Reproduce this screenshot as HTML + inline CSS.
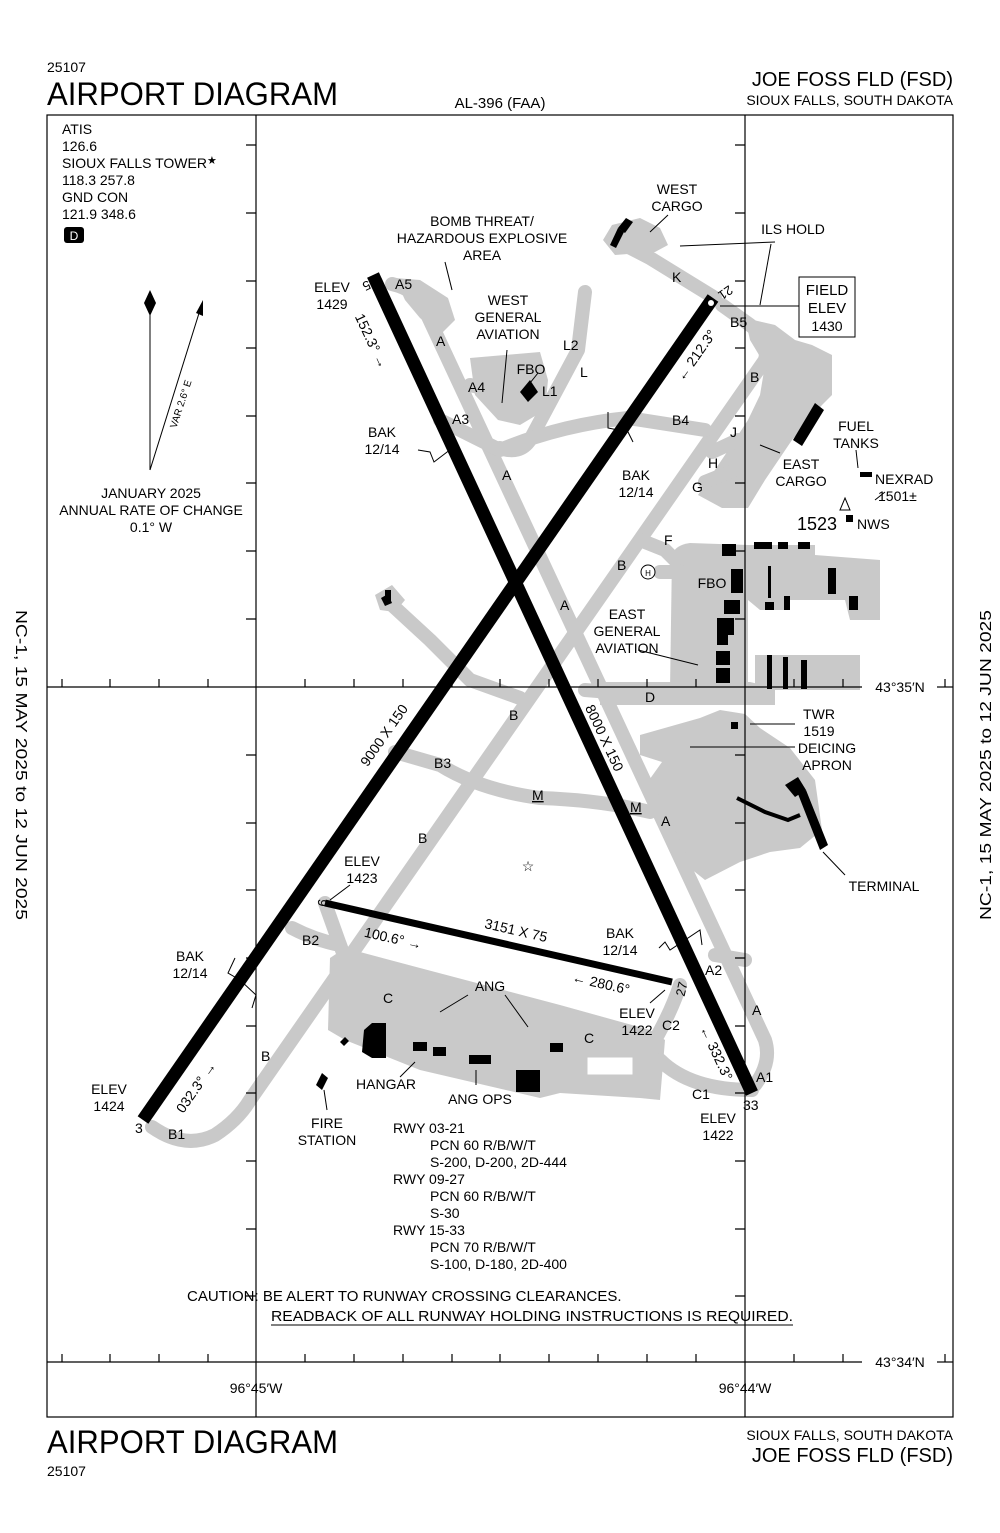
<!DOCTYPE html>
<html><head><meta charset="utf-8"><style>
html,body{margin:0;padding:0;background:#fff}
svg{display:block}
text{font-family:"Liberation Sans",sans-serif;fill:#000}
</style></head><body>
<svg width="1000" height="1533" viewBox="0 0 1000 1533" xmlns="http://www.w3.org/2000/svg">
<!-- header -->
<text x="47" y="72" font-size="14">25107</text>
<text x="47" y="105" font-size="32" textLength="291" lengthAdjust="spacingAndGlyphs">AIRPORT DIAGRAM</text>
<text x="500" y="108" font-size="15" text-anchor="middle">AL-396 (FAA)</text>
<text x="953" y="86" font-size="20" text-anchor="end">JOE FOSS FLD (FSD)</text>
<text x="953" y="105" font-size="14" text-anchor="end">SIOUX FALLS, SOUTH DAKOTA</text>
<!-- footer -->
<text x="47" y="1453" font-size="32" textLength="291" lengthAdjust="spacingAndGlyphs">AIRPORT DIAGRAM</text>
<text x="47" y="1476" font-size="14">25107</text>
<text x="953" y="1440" font-size="14" text-anchor="end">SIOUX FALLS, SOUTH DAKOTA</text>
<text x="953" y="1462" font-size="20" text-anchor="end">JOE FOSS FLD (FSD)</text>
<!-- side text -->
<text transform="translate(16,610) rotate(90)" font-size="16" textLength="310" lengthAdjust="spacingAndGlyphs">NC-1,  15 MAY 2025  to  12 JUN 2025</text>
<text transform="translate(991,920) rotate(-90)" font-size="16" textLength="310" lengthAdjust="spacingAndGlyphs">NC-1,  15 MAY 2025  to  12 JUN 2025</text>

<!-- frame -->
<rect x="47" y="115" width="906" height="1302" fill="none" stroke="#000" stroke-width="1.2"/>

<!-- gray areas -->
<g fill="#c9c9c9" stroke="none">
 <polygon points="603,240 612,225 640,218 660,228 668,245 655,252 615,255"/>
 <polygon points="395,278 420,280 448,298 455,320 440,335 420,318 405,300"/>
 <polygon points="470,358 540,352 548,380 545,410 520,425 498,420 475,395"/>
 <polygon points="745,318 775,325 795,340 812,345 832,355 832,395 822,405 792,440 765,480 748,508 722,508 698,495 725,455 748,420 760,395 765,365 750,340"/>
 <path d="M672,555 Q675,545 690,543 L748,545 L748,690 L670,690 Z"/>
 <polygon points="748,545 815,545 815,555 880,560 880,620 850,620 845,600 790,600 790,610 760,610 748,600"/>
 <polygon points="755,655 860,655 860,690 755,690"/>
 <polygon points="600,682 750,682 775,688 775,705 745,705 600,705"/>
 <polygon points="640,735 700,718 720,710 745,714 760,728 790,748 815,780 822,830 800,848 770,852 740,862 705,880 680,860 668,835 655,810 642,790 662,762 640,755"/>
 <polygon points="330,958 345,948 420,968 560,1005 650,1030 665,1040 660,1100 640,1098 560,1093 540,1098 420,1070 345,1040 328,1030"/>
 <polygon points="375,595 392,585 405,600 395,612 380,610"/>
</g>
<g fill="none" stroke="#c9c9c9" stroke-width="14" stroke-linejoin="round" stroke-linecap="round">
 <path d="M392,284 Q418,290 425,310 L765,1040 Q772,1062 755,1085"/>
 <path d="M152,1127 Q185,1150 215,1135 Q238,1120 250,1100 L765,360 Q770,340 750,325 L722,305"/>
 <path d="M615,240 L650,258 L715,298"/>
 <path d="M500,448 Q520,455 530,440 L578,350 L585,292"/>
 <path d="M470,385 L500,392"/>
 <path d="M440,420 Q480,440 500,450 Q560,425 628,418 L705,430"/>
 <path d="M735,470 L705,482"/>
 <path d="M738,440 L712,452"/>
 <path d="M640,540 L665,550 L675,560"/>
 <path d="M660,572 L680,572"/>
 <path d="M392,605 L430,640 L470,680 L520,698"/>
 <path d="M585,690 L610,692"/>
 <path d="M395,752 L440,765 Q480,790 540,798 Q600,800 650,812"/>
 <path d="M292,928 Q315,940 340,945 L345,958"/>
 <path d="M325,903 L340,945"/>
 <path d="M655,1040 Q672,1010 680,985"/>
 <path d="M660,1060 Q690,1090 752,1090"/>
 <path d="M715,955 L745,960"/>
</g>
<rect x="585" y="1055" width="50" height="22" fill="#fff" stroke="#c9c9c9" stroke-width="5"/>

<!-- grid lines -->
<g stroke="#000" stroke-width="1.2" fill="none">
 <line x1="256" y1="115" x2="256" y2="1417"/>
 <line x1="745" y1="115" x2="745" y2="1417"/>
 <line x1="47" y1="687" x2="862" y2="687"/>
 <line x1="937" y1="687" x2="953" y2="687"/>
 <line x1="47" y1="1362" x2="862" y2="1362"/>
 <line x1="937" y1="1362" x2="953" y2="1362"/>
</g>
<g stroke="#000" stroke-width="1.2">
 <path d="M246,145h10M246,213h10M246,281h10M246,348h10M246,416h10M246,483h10M246,551h10M246,619h10M246,755h10M246,823h10M246,890h10M246,958h10M246,1026h10M246,1093h10M246,1161h10M246,1229h10M246,1296h10"/>
 <path d="M735,145h10M735,213h10M735,281h10M735,348h10M735,416h10M735,483h10M735,551h10M735,619h10M735,755h10M735,823h10M735,890h10M735,958h10M735,1026h10M735,1093h10M735,1161h10M735,1229h10M735,1296h10"/>
 <path d="M62,687v-8M110,687v-8M159,687v-8M208,687v-8M305,687v-8M354,687v-8M403,687v-8M452,687v-8M500,687v-8M549,687v-8M598,687v-8M647,687v-8M696,687v-8M794,687v-8M843,687v-8M945,687v-8"/>
 <path d="M62,1362v-8M110,1362v-8M159,1362v-8M208,1362v-8M305,1362v-8M354,1362v-8M403,1362v-8M452,1362v-8M500,1362v-8M549,1362v-8M598,1362v-8M647,1362v-8M696,1362v-8M794,1362v-8M843,1362v-8M945,1362v-8"/>
</g>
<text x="900" y="692" font-size="14" text-anchor="middle">43°35′N</text>
<text x="900" y="1367" font-size="14" text-anchor="middle">43°34′N</text>
<text x="256" y="1393" font-size="14" text-anchor="middle">96°45′W</text>
<text x="745" y="1393" font-size="14" text-anchor="middle">96°44′W</text>

<!-- runways -->
<g stroke="#000" stroke-linecap="butt">
 <line x1="143" y1="1120" x2="713" y2="298" stroke-width="13"/>
 <line x1="373" y1="275" x2="752" y2="1093" stroke-width="13"/>
 <line x1="325" y1="903" x2="672" y2="982" stroke-width="7"/>
</g>
<circle cx="711" cy="303" r="3" fill="#fff"/>

<!-- buildings -->
<g fill="#000">
 <polygon points="610,245 618,228 624,232 616,248"/>
 <polygon points="618,228 626,218 633,222 625,233"/>
 <polygon points="520,392 530,380 538,392 528,402"/>
 <polygon points="793,440 815,403 824,410 802,446"/>
 <rect x="860" y="472" width="12" height="5"/>
 <rect x="846" y="515" width="7" height="7"/>
 <rect x="722" y="544" width="14" height="12"/>
 <rect x="754" y="542" width="18" height="7"/>
 <rect x="778" y="542" width="10" height="7"/>
 <rect x="798" y="542" width="12" height="7"/>
 <rect x="731" y="569" width="12" height="24"/>
 <rect x="724" y="600" width="16" height="14"/>
 <polygon points="717,618 734,618 734,635 728,635 728,645 717,645"/>
 <rect x="716" y="651" width="14" height="14"/>
 <rect x="716" y="668" width="14" height="15"/>
 <rect x="768" y="566" width="3" height="32"/>
 <rect x="765" y="602" width="9" height="8"/>
 <rect x="784" y="596" width="6" height="14"/>
 <rect x="828" y="568" width="8" height="26"/>
 <rect x="849" y="596" width="9" height="14"/>
 <rect x="767" y="655" width="5" height="34"/>
 <rect x="783" y="657" width="5" height="32"/>
 <rect x="801" y="660" width="6" height="29"/>
 <rect x="731" y="722" width="7" height="7"/>
 <polygon points="785,785 798,777 806,790 795,797"/>
 <polygon points="798,794 806,790 828,845 820,850"/>
 <polyline points="737,798 765,812 788,820 800,815" fill="none" stroke="#000" stroke-width="4"/>
 <rect x="385" y="590" width="6" height="12"/>
 <polygon points="381,598 388,594 392,603 385,606"/>
 <polygon points="364,1030 372,1023 386,1023 386,1058 372,1058 362,1052"/>
 <polygon points="340,1042 345,1037 349,1041 344,1046"/>
 <rect x="413" y="1042" width="14" height="9"/>
 <rect x="433" y="1047" width="13" height="9"/>
 <rect x="469" y="1055" width="22" height="9"/>
 <rect x="516" y="1070" width="24" height="22"/>
 <rect x="550" y="1043" width="13" height="9"/>
 <polygon points="316,1085 322,1073 328,1078 322,1090"/>
</g>
<circle cx="648" cy="572" r="7" fill="#fff" stroke="#000"/>
<text x="648" y="576" font-size="8" text-anchor="middle">H</text>
<text x="528" y="871" font-size="14" text-anchor="middle">☆</text>

<!-- leader lines and arrows -->
<g stroke="#000" stroke-width="1" fill="none">
 <line x1="445" y1="262" x2="452" y2="290"/>
 <line x1="507" y1="350" x2="502" y2="403"/>
 <line x1="538" y1="373" x2="530" y2="383"/>
 <line x1="668" y1="215" x2="650" y2="232"/>
 <polyline points="775,242 680,246"/>
 <polyline points="771,244 760,305"/>
 <line x1="720" y1="306" x2="800" y2="306"/>
 <line x1="780" y1="453" x2="760" y2="445"/>
 <line x1="856" y1="450" x2="858" y2="468"/>
 <line x1="885" y1="492" x2="875" y2="500"/>
 <polygon points="845,498 850,510 840,510"/>
 <line x1="638" y1="650" x2="698" y2="665"/>
 <line x1="795" y1="724" x2="750" y2="724"/>
 <line x1="795" y1="747" x2="690" y2="747"/>
 <line x1="845" y1="875" x2="823" y2="852"/>
 <line x1="350" y1="885" x2="330" y2="900"/>
 <line x1="468" y1="995" x2="440" y2="1012"/>
 <line x1="505" y1="995" x2="528" y2="1027"/>
 <line x1="650" y1="1003" x2="665" y2="990"/>
 <line x1="400" y1="1077" x2="415" y2="1062"/>
 <line x1="476" y1="1085" x2="476" y2="1070"/>
 <line x1="327" y1="1110" x2="324" y2="1090"/>
 <line x1="150" y1="470" x2="150" y2="310"/>
 <line x1="150" y1="470" x2="200" y2="310"/>
 <polyline points="418,450 430,452 434,462 455,446 460,455"/>
 <polyline points="608,412 608,428 628,432 633,442"/>
 <polyline points="235,958 228,973 240,980 256,995 252,1008"/>
 <polyline points="659,948 665,942 670,950 700,930 702,945"/>
</g>
<polygon points="150,290 156,303 150,316 144,303" fill="#000"/>
<polygon points="203,300 203,316 196,313" fill="#000"/>

<!-- labels -->
<g font-size="14">
 <text x="62" y="134">ATIS</text>
 <text x="62" y="151">126.6</text>
 <text x="62" y="168">SIOUX FALLS TOWER<tspan font-size="11" dy="-4">★</tspan></text>
 <text x="62" y="185">118.3  257.8</text>
 <text x="62" y="202">GND CON</text>
 <text x="62" y="219">121.9  348.6</text>
 <text x="151" y="498" text-anchor="middle">JANUARY 2025</text>
 <text x="151" y="515" text-anchor="middle">ANNUAL RATE OF CHANGE</text>
 <text x="151" y="532" text-anchor="middle">0.1° W</text>
 <text x="482" y="226" text-anchor="middle">BOMB THREAT/</text>
 <text x="482" y="243" text-anchor="middle">HAZARDOUS EXPLOSIVE</text>
 <text x="482" y="260" text-anchor="middle">AREA</text>
 <text x="677" y="194" text-anchor="middle">WEST</text>
 <text x="677" y="211" text-anchor="middle">CARGO</text>
 <text x="793" y="234" text-anchor="middle">ILS HOLD</text>
 <text x="508" y="305" text-anchor="middle">WEST</text>
 <text x="508" y="322" text-anchor="middle">GENERAL</text>
 <text x="508" y="339" text-anchor="middle">AVIATION</text>
 <text x="531" y="374" text-anchor="middle">FBO</text>
 <text x="332" y="292" text-anchor="middle">ELEV</text>
 <text x="332" y="309" text-anchor="middle">1429</text>
 <text x="382" y="437" text-anchor="middle">BAK</text>
 <text x="382" y="454" text-anchor="middle">12/14</text>
 <text x="636" y="480" text-anchor="middle">BAK</text>
 <text x="636" y="497" text-anchor="middle">12/14</text>
 <text x="801" y="469" text-anchor="middle">EAST</text>
 <text x="801" y="486" text-anchor="middle">CARGO</text>
 <text x="856" y="431" text-anchor="middle">FUEL</text>
 <text x="856" y="448" text-anchor="middle">TANKS</text>
 <text x="875" y="484">NEXRAD</text>
 <text x="878" y="501">1501±</text>
 <text x="797" y="530" font-size="18">1523</text>
 <text x="857" y="529">NWS</text>
 <text x="712" y="588" text-anchor="middle">FBO</text>
 <text x="627" y="619" text-anchor="middle">EAST</text>
 <text x="627" y="636" text-anchor="middle">GENERAL</text>
 <text x="627" y="653" text-anchor="middle">AVIATION</text>
 <text x="819" y="719" text-anchor="middle">TWR</text>
 <text x="819" y="736" text-anchor="middle">1519</text>
 <text x="827" y="753" text-anchor="middle">DEICING</text>
 <text x="827" y="770" text-anchor="middle">APRON</text>
 <text x="884" y="891" text-anchor="middle">TERMINAL</text>
 <text x="362" y="866" text-anchor="middle">ELEV</text>
 <text x="362" y="883" text-anchor="middle">1423</text>
 <text x="190" y="961" text-anchor="middle">BAK</text>
 <text x="190" y="978" text-anchor="middle">12/14</text>
 <text x="620" y="938" text-anchor="middle">BAK</text>
 <text x="620" y="955" text-anchor="middle">12/14</text>
 <text x="490" y="991" text-anchor="middle">ANG</text>
 <text x="637" y="1018" text-anchor="middle">ELEV</text>
 <text x="637" y="1035" text-anchor="middle">1422</text>
 <text x="386" y="1089" text-anchor="middle">HANGAR</text>
 <text x="480" y="1104" text-anchor="middle">ANG OPS</text>
 <text x="327" y="1128" text-anchor="middle">FIRE</text>
 <text x="327" y="1145" text-anchor="middle">STATION</text>
 <text x="109" y="1094" text-anchor="middle">ELEV</text>
 <text x="109" y="1111" text-anchor="middle">1424</text>
 <text x="718" y="1123" text-anchor="middle">ELEV</text>
 <text x="718" y="1140" text-anchor="middle">1422</text>
 <text x="393" y="1133">RWY 03-21</text>
 <text x="430" y="1150">PCN 60 R/B/W/T</text>
 <text x="430" y="1167">S-200, D-200, 2D-444</text>
 <text x="393" y="1184">RWY 09-27</text>
 <text x="430" y="1201">PCN 60 R/B/W/T</text>
 <text x="430" y="1218">S-30</text>
 <text x="393" y="1235">RWY 15-33</text>
 <text x="430" y="1252">PCN 70 R/B/W/T</text>
 <text x="430" y="1269">S-100, D-180, 2D-400</text>
 <text x="187" y="1301" font-size="15">CAUTION: BE ALERT TO RUNWAY CROSSING CLEARANCES.</text>
 <text x="271" y="1321" font-size="15" textLength="522" lengthAdjust="spacingAndGlyphs">READBACK OF ALL RUNWAY HOLDING INSTRUCTIONS IS REQUIRED.</text>
 <text x="395" y="289">A5</text>
 <text x="436" y="346">A</text>
 <text x="468" y="392">A4</text>
 <text x="452" y="424">A3</text>
 <text x="502" y="480">A</text>
 <text x="560" y="610">A</text>
 <text x="661" y="826">A</text>
 <text x="752" y="1015">A</text>
 <text x="756" y="1082">A1</text>
 <text x="705" y="975">A2</text>
 <text x="563" y="350">L2</text>
 <text x="580" y="377">L</text>
 <text x="542" y="396">L1</text>
 <text x="672" y="282">K</text>
 <text x="730" y="327">B5</text>
 <text x="750" y="382">B</text>
 <text x="672" y="425">B4</text>
 <text x="730" y="437">J</text>
 <text x="708" y="468">H</text>
 <text x="692" y="492">G</text>
 <text x="664" y="545">F</text>
 <text x="617" y="570">B</text>
 <text x="645" y="702">D</text>
 <text x="509" y="720">B</text>
 <text x="434" y="768">B3</text>
 <text x="532" y="800" text-decoration="underline">M</text>
 <text x="630" y="812" text-decoration="underline">M</text>
 <text x="418" y="843">B</text>
 <text x="302" y="945">B2</text>
 <text x="383" y="1003">C</text>
 <text x="584" y="1043">C</text>
 <text x="662" y="1030">C2</text>
 <text x="692" y="1099">C1</text>
 <text x="261" y="1061">B</text>
 <text x="168" y="1139">B1</text>
 <text x="743" y="1110">33</text>
 <text x="135" y="1133">3</text>
</g>
<g font-size="14">
 <text transform="translate(388,738) rotate(-55)" text-anchor="middle">9000 X 150</text>
 <text transform="translate(600,740) rotate(65)" text-anchor="middle">8000 X 150</text>
 <text transform="translate(515,935) rotate(12.9)" text-anchor="middle">3151 X 75</text>
 <text transform="translate(367,343) rotate(65)" text-anchor="middle">152.3° →</text>
 <text transform="translate(700,358) rotate(-55)" text-anchor="middle">← 212.3°</text>
 <text transform="translate(200,1090) rotate(-55)" text-anchor="middle">032.3° →</text>
 <text transform="translate(712,1055) rotate(65)" text-anchor="middle">← 332.3°</text>
 <text transform="translate(392,943) rotate(12.9)" text-anchor="middle">100.6° →</text>
 <text transform="translate(600,988) rotate(12.9)" text-anchor="middle">← 280.6°</text>
 <text transform="translate(184,405) rotate(-72)" text-anchor="middle" font-size="10">VAR 2.6° E</text>
 <text transform="translate(368,280) rotate(155)" text-anchor="middle" font-size="13">15</text>
 <text transform="translate(723,289) rotate(145)" text-anchor="middle" font-size="13">21</text>
 <text transform="translate(318,902) rotate(100)" text-anchor="middle" font-size="13">9</text>
 <text transform="translate(686,990) rotate(-77)" text-anchor="middle" font-size="13">27</text>
</g>
<rect x="64" y="227" width="20" height="16" rx="3" fill="#000"/>
<text x="74" y="240" font-size="12" text-anchor="middle" style="fill:#fff">D</text>
<rect x="799" y="277" width="56" height="60" fill="#fff" stroke="#000"/>
<text x="827" y="295" font-size="15" text-anchor="middle">FIELD</text>
<text x="827" y="313" font-size="15" text-anchor="middle">ELEV</text>
<text x="827" y="331" font-size="14" text-anchor="middle">1430</text>
<line x1="271" y1="1325" x2="793" y2="1325" stroke="#000" stroke-width="1"/>
</svg>
</body></html>
